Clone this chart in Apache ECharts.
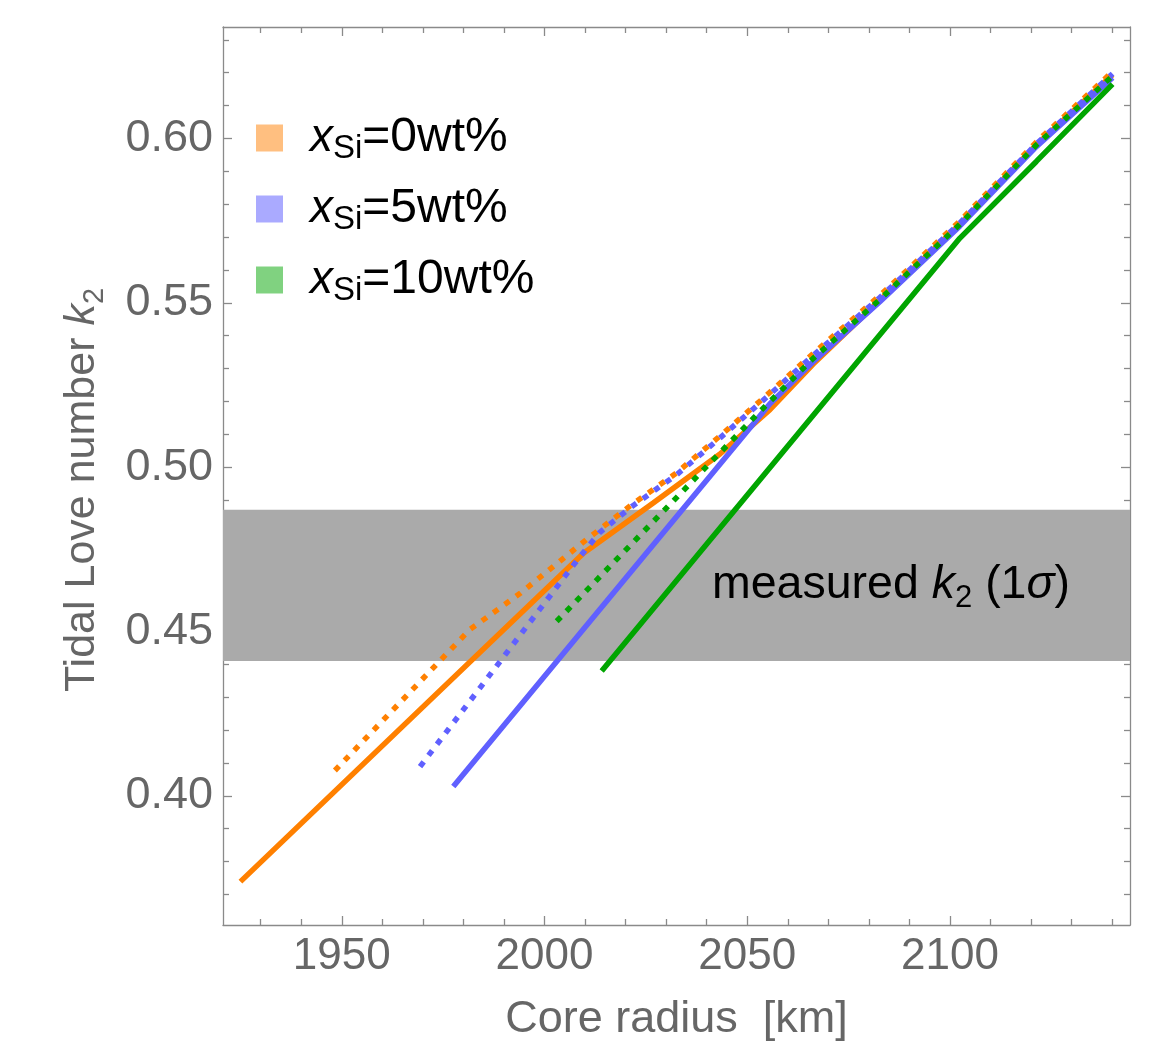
<!DOCTYPE html>
<html>
<head>
<meta charset="utf-8">
<title>Tidal Love number vs core radius</title>
<script src="https://cdn.jsdelivr.net/npm/echarts@6/dist/echarts.min.js"></script>
<style>
  html, body { margin: 0; padding: 0; background: #fff; }
  #chart { width: 1158px; height: 1052px; }
</style>
</head>
<body>
<div id="chart"></div>
<script>
// axis ranges and ticks
var xRange = [1920.7, 2144.4];
var yRange = [0.3607, 0.6339];
var xMajorTicks = [1950, 2000, 2050, 2100];
var xMinorTicks = [1930, 1940, 1960, 1970, 1980, 1990, 2010, 2020, 2030, 2040, 2060, 2070, 2080, 2090, 2110, 2120, 2130, 2140];
var yMajorTicks = [0.40, 0.45, 0.50, 0.55, 0.60];
var yMinorTicks = [0.37, 0.38, 0.39, 0.41, 0.42, 0.43, 0.44, 0.46, 0.47, 0.48, 0.49, 0.51, 0.52, 0.53, 0.54, 0.56, 0.57, 0.58, 0.59, 0.61, 0.62, 0.63];

// measured k2 and 1 sigma
var k2Measured = 0.464;
var k2Sigma = 0.023;

// Si content of the core (wt%)
var siContents = [0, 5, 10];

// [core radius km, k2]
var orangeSolid = [[1925.0, 0.3739], [2009.6, 0.4738], [2026.8, 0.4891], [2043.2, 0.5039], [2055.6, 0.5175], [2066.2, 0.5313], [2082.7, 0.5508], [2102.4, 0.5738], [2121.3, 0.5980], [2140.1, 0.6194]];
var orangeDotted = [[1948.3, 0.4077], [1981.6, 0.4506], [1994.0, 0.4616], [2010.4, 0.4780], [2021.1, 0.4882], [2032.6, 0.4983], [2043.2, 0.5094], [2053.9, 0.5209], [2066.2, 0.5345], [2082.7, 0.5522], [2102.4, 0.5748], [2121.3, 0.5989], [2140.1, 0.6203]];
var blueSolid = [[1977.5, 0.4028], [2055.6, 0.5193], [2066.2, 0.5320], [2082.7, 0.5503], [2102.4, 0.5733], [2121.3, 0.5975], [2140.1, 0.6185]];
var blueDotted = [[1969.3, 0.4089], [2008.0, 0.4716], [2013.5, 0.4800], [2021.1, 0.4876], [2032.6, 0.4977], [2043.2, 0.5088], [2053.9, 0.5203], [2066.2, 0.5339], [2082.7, 0.5516], [2102.4, 0.5742], [2121.3, 0.5983], [2140.1, 0.6197]];
var greenSolid = [[2014.1, 0.4380], [2102.4, 0.5696], [2121.3, 0.5930], [2140.1, 0.6165]];
var greenDotted = [[2003.0, 0.4531], [2053.1, 0.5169], [2066.2, 0.5330], [2082.7, 0.5510], [2102.4, 0.5738], [2121.3, 0.5980], [2140.1, 0.6190]];

var lineColors = ['#FF8000', '#6060FF', '#00A500'];
var swatchColors = ['#FFBF80', '#AAAAFF', '#80D280'];
var font = 'Liberation Sans';
var gray = '#666666';
var frame = '#8a8a8a';

var names = siContents.map(function (c) { return 'xSi=' + c + 'wt%'; });

function xAxisDef(pos, ticks, len, main) {
  return {
    type: 'value', position: pos, min: xRange[0], max: xRange[1],
    axisLine: { show: main, onZero: false, lineStyle: { color: frame, width: 1.3 } },
    axisTick: { show: true, inside: true, length: len, customValues: ticks, lineStyle: { color: frame, width: 1.3 } },
    axisLabel: { show: false },
    splitLine: { show: false }
  };
}
function yAxisDef(pos, ticks, len, main) {
  return {
    type: 'value', position: pos, min: yRange[0], max: yRange[1],
    axisLine: { show: main, onZero: false, lineStyle: { color: frame, width: 1.3 } },
    axisTick: { show: true, inside: true, length: len, customValues: ticks, lineStyle: { color: frame, width: 1.3 } },
    axisLabel: { show: false },
    splitLine: { show: false }
  };
}

var xAxes = [
  xAxisDef('bottom', xMajorTicks, 9, true),
  xAxisDef('bottom', xMinorTicks, 6, false),
  xAxisDef('top', xMajorTicks, 9, true),
  xAxisDef('top', xMinorTicks, 6, false)
];
xAxes[0].axisLabel = {
  show: true, customValues: xMajorTicks, margin: 10, color: gray, fontSize: 44, fontFamily: font,
  formatter: function (v) { return String(v); }
};
xAxes[0].name = 'Core radius  [km]';
xAxes[0].nameLocation = 'middle';
xAxes[0].nameGap = 68;
xAxes[0].nameTextStyle = { color: gray, fontSize: 45, fontFamily: font, lineHeight: 54 };

var yAxes = [
  yAxisDef('left', yMajorTicks, 9, true),
  yAxisDef('left', yMinorTicks, 6, false),
  yAxisDef('right', yMajorTicks, 9, true),
  yAxisDef('right', yMinorTicks, 6, false)
];
yAxes[0].axisLabel = {
  show: true, customValues: yMajorTicks, margin: 10, color: gray, fontSize: 45, fontFamily: font,
  formatter: function (v) { return v.toFixed(2); }
};
yAxes[0].name = '{t|Tidal Love number }{k|k}{s|2}';
yAxes[0].nameLocation = 'middle';
yAxes[0].nameGap = 114;
yAxes[0].nameTextStyle = {
  padding: [0, 28, 0, 0],
  rich: {
    t: { color: gray, fontSize: 43, fontFamily: font, lineHeight: 54 },
    k: { color: gray, fontSize: 43, fontFamily: font, fontStyle: 'italic', lineHeight: 54 },
    s: { color: gray, fontSize: 29, fontFamily: font, lineHeight: 29, verticalAlign: 'bottom' }
  }
};

function lineSeries(name, data, color, dotted) {
  return {
    name: name, type: 'line', data: data, xAxisIndex: 0, yAxisIndex: 0,
    showSymbol: false, symbol: 'none', z: dotted ? 4 : 3,
    lineStyle: { color: color, width: 5.5, type: dotted ? [6, 8] : 'solid', cap: 'butt' },
    itemStyle: { color: color },
    emphasis: { disabled: true }
  };
}

var series = [
  lineSeries(names[0], orangeSolid, lineColors[0], false),
  lineSeries(names[1], blueSolid, lineColors[1], false),
  lineSeries(names[2], greenSolid, lineColors[2], false),
  lineSeries(names[0] + ' dotted', orangeDotted, lineColors[0], true),
  lineSeries(names[1] + ' dotted', blueDotted, lineColors[1], true),
  lineSeries(names[2] + ' dotted', greenDotted, lineColors[2], true)
];
series[0].markArea = {
  silent: true, z: 1,
  itemStyle: { color: '#AAAAAA', opacity: 1 },
  label: {
    show: true, position: 'insideRight', distance: 60,
    formatter: '{t|measured }{k|k}{s|2}{t| (1}{k|σ}{t|)}',
    rich: {
      t: { color: '#000', fontSize: 46.5, fontFamily: font, lineHeight: 56 },
      k: { color: '#000', fontSize: 46.5, fontFamily: font, fontStyle: 'italic', lineHeight: 56 },
      s: { color: '#000', fontSize: 31, fontFamily: font, lineHeight: 31, verticalAlign: 'bottom' }
    }
  },
  data: [[{ yAxis: k2Measured + k2Sigma }, { yAxis: k2Measured - k2Sigma }]]
};

var chart = echarts.init(document.getElementById('chart'), null, { renderer: 'canvas' });
chart.setOption({
  animation: false,
  backgroundColor: '#ffffff',
  grid: { left: 223, right: 28, top: 27, bottom: 119, containLabel: false },
  legend: {
    orient: 'vertical', left: 256, top: 114, padding: 0, itemGap: 20,
    itemWidth: 27, itemHeight: 27, selectedMode: false,
    data: names.map(function (n, i) {
      return { name: n, icon: 'rect', itemStyle: { color: swatchColors[i] } };
    }),
    formatter: function (n) {
      var c = siContents[names.indexOf(n)];
      return '{x|x}{s|Si}{t|=' + c + 'wt%}';
    },
    textStyle: {
      rich: {
        x: { color: '#000', fontSize: 46, fontFamily: font, fontStyle: 'italic', lineHeight: 54, padding: [0, 0, 0, 22] },
        s: { color: '#000', fontSize: 33, fontFamily: font, lineHeight: 33, verticalAlign: 'bottom' },
        t: { color: '#000', fontSize: 48, fontFamily: font, lineHeight: 54 }
      }
    }
  },
  xAxis: xAxes,
  yAxis: yAxes,
  series: series
});
</script>
</body>
</html>
